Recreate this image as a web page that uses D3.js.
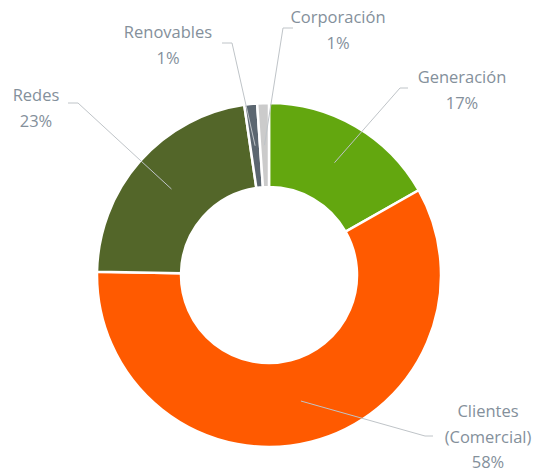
<!DOCTYPE html>
<html>
<head>
<meta charset="utf-8">
<script src="https://cdn.jsdelivr.net/npm/d3@7"></script>
<style>
  body { margin: 0; background: #fff; }
  text { font-family: "Open Sans", sans-serif; fill: #84909b; }
</style>
</head>
<body>
<script>
var width = 544,
    height = 472;

// data, clockwise from 12 o'clock
var categories = ["Generación", "Clientes (Comercial)", "Redes", "Renovables", "Corporación"];
var values = [16.8, 58.5, 22.4, 1.2, 1.1];
var pctLabels = ["17%", "58%", "23%", "1%", "1%"];
var labelLines = [["Generación"], ["Clientes", "(Comercial)"], ["Redes"], ["Renovables"], ["Corporación"]];

var colors = ["#63a70f", "#ff5a00", "#536629", "#5b6670", "#cbcbcb"];

// where each label sits and where its leader line bends
var labelPos = [
  { x: 462, y: 83, elbow: [400, 88], end: [408, 88] },
  { x: 488, y: 417, elbow: [425, 436], end: [433, 436] },
  { x: 36, y: 101, elbow: [78, 103], end: [68, 103] },
  { x: 168, y: 38, elbow: [232, 43], end: [222, 43] },
  { x: 338, y: 23, elbow: [283, 28], end: [293, 28] }
];

var cx = 269, cy = 275, outerR = 172, innerR = 88;

var svg = d3.select("body").append("svg")
    .attr("width", width)
    .attr("height", height);

var g = svg.append("g")
    .attr("transform", "translate(" + cx + "," + cy + ")");

var pie = d3.pie().sort(null).value(function(d) { return d; });
var arc = d3.arc().innerRadius(innerR).outerRadius(outerR);

var arcs = pie(values);

g.selectAll("path.slice")
    .data(arcs)
    .enter().append("path")
    .attr("class", "slice")
    .attr("d", arc)
    .attr("fill", function(d, i) { return colors[i]; })
    .attr("stroke", "#fff")
    .attr("stroke-width", 2.5)
    .attr("stroke-linejoin", "miter");

// leader lines
svg.selectAll("polyline.leader")
    .data(arcs)
    .enter().append("polyline")
    .attr("class", "leader")
    .attr("fill", "none")
    .attr("stroke", "#bfc4c8")
    .attr("stroke-width", 1)
    .attr("points", function(d, i) {
      var c = arc.centroid(d);
      var p = labelPos[i];
      return [[c[0] + cx, c[1] + cy], p.elbow, p.end].map(function(q) { return q.join(","); }).join(" ");
    });

// labels
var labels = svg.selectAll("text.lbl")
    .data(arcs)
    .enter().append("text")
    .attr("class", "lbl")
    .attr("text-anchor", "middle")
    .attr("font-size", 16.5)
    .attr("x", function(d, i) { return labelPos[i].x; })
    .attr("y", function(d, i) { return labelPos[i].y; });

labels.each(function(d, i) {
  var t = d3.select(this);
  labelLines[i].concat([pctLabels[i]]).forEach(function(line, k) {
    t.append("tspan")
      .attr("x", labelPos[i].x)
      .attr("dy", k === 0 ? 0 : 25.5)
      .text(line);
  });
});
</script>
</body>
</html>
